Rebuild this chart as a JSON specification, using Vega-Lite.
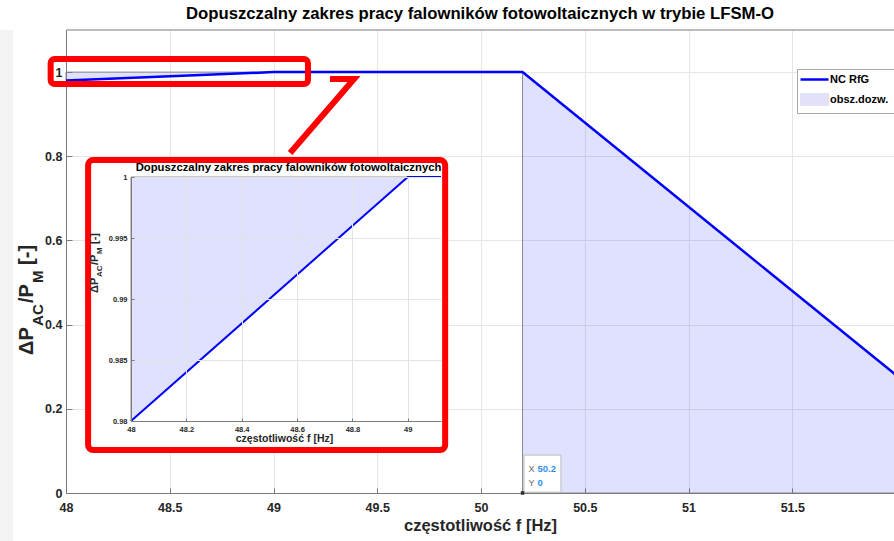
{
  "$schema": "https://vega.github.io/schema/vega-lite/v6.json",
  "width": 828,
  "height": 463,
  "autosize": {"type": "none"},
  "padding": {"left": 66, "top": 30, "right": 0, "bottom": 48},
  "background": "white",
  "config": {"view": {"stroke": null}, "font": "Liberation Sans"},
  "title": {"text": "Dopuszczalny zakres pracy falowników fotowoltaicznych w trybie LFSM-O", "font": "Liberation Sans", "fontSize": 16.7, "fontWeight": "bold", "color": "#000000", "anchor": "middle", "offset": 7},
  "data": {"values": [{}]},
  "datasets": {
    "nc": [{"f": 48, "p": 0.98}, {"f": 49, "p": 1}, {"f": 50.2, "p": 1}, {"f": 52, "p": 0.28}],
    "zone_low": [{"f": 48, "p": 0.98}, {"f": 49, "p": 1}],
    "zone_high": [{"f": 50.2, "p": 1}, {"f": 52, "p": 0.28}],
    "inset": [{"f": 48, "p": 0.98}, {"f": 49, "p": 1}, {"f": 49.12, "p": 1}],
    "arrow": [{"ax": 49.272, "ay": 0.9834, "o": 0}, {"ax": 49.388, "ay": 0.9834, "o": 1}, {"ax": 49.08, "ay": 0.8076, "o": 2}]
  },
  "resolve": {"scale": {"x": "independent", "y": "independent"}},
  "layer": [
    {
      "layer": [
        {
          "mark": {"type": "rect", "fill": "#f3f3f3", "stroke": null},
          "encoding": {"x": {"datum": 47.5}, "x2": {"datum": 47.745}, "y": {"datum": -0.12}, "y2": {"datum": 1.1}}
        },
        {
          "data": {"name": "zone_high"},
          "mark": {"type": "area", "fill": "#0000ff", "fillOpacity": 0.12, "stroke": "#8c8c8c", "strokeWidth": 1, "clip": true},
          "encoding": {
            "x": {"field": "f", "type": "quantitative",
              "scale": {"domain": [48, 51.99], "nice": false, "zero": false},
              "axis": {"values": [48, 48.5, 49, 49.5, 50, 50.5, 51, 51.5], "format": ".1~f", "title": "częstotliwość f [Hz]", "titleFont": "Liberation Sans", "titleFontSize": 16.5, "titleFontWeight": "bold", "titleColor": "#262626", "titlePadding": 4, "labelFont": "Liberation Sans", "labelFontSize": 12.5, "labelFontWeight": "bold", "labelColor": "#262626", "labelPadding": 13, "labelFlush": false, "labelOverlap": false, "tickSize": -5, "tickColor": "#7a7a7a", "domainColor": "#7a7a7a", "grid": true, "gridColor": "#e6e6e6"}},
            "y": {"field": "p", "type": "quantitative",
              "scale": {"domain": [0, 1.1], "nice": false, "zero": false},
              "axis": {"values": [0, 0.2, 0.4, 0.6, 0.8, 1], "format": ".1~f", "title": null, "labelFont": "Liberation Sans", "labelFontSize": 12.5, "labelFontWeight": "bold", "labelColor": "#262626", "labelPadding": 10, "labelFlush": false, "labelOverlap": false, "tickSize": -6, "tickColor": "#7a7a7a", "domainColor": "#7a7a7a", "grid": true, "gridColor": "#e6e6e6"}},
            "y2": {"datum": 0}
          }
        },
        {
          "data": {"name": "zone_low"},
          "mark": {"type": "area", "fill": "#0000ff", "fillOpacity": 0.12, "stroke": "#8c8c8c", "strokeWidth": 1},
          "encoding": {
            "x": {"field": "f", "type": "quantitative"},
            "y": {"field": "p", "type": "quantitative"},
            "y2": {"datum": 1}
          }
        },
        {
          "mark": {"type": "rule", "color": "#7a7a7a", "strokeWidth": 1},
          "encoding": {"y": {"datum": 1.1}}
        },
        {
          "data": {"name": "nc"},
          "mark": {"type": "line", "strokeWidth": 2.5, "clip": true},
          "encoding": {
            "x": {"field": "f", "type": "quantitative"},
            "y": {"field": "p", "type": "quantitative"},
            "color": {"datum": "NC RfG",
              "scale": {"domain": ["NC RfG", "obsz.dozw."], "range": ["#0000ff", "#e2e2fb"]},
              "legend": {"title": null, "orient": "none", "legendX": 731, "legendY": 39, "padding": 5, "rowPadding": 6, "strokeColor": "#a8a8a8", "fillColor": "#ffffff", "symbolSize": 144, "symbolOffset": 7, "labelOffset": 10, "labelFont": "Liberation Sans", "labelFontSize": 11, "labelFontWeight": "bold", "labelColor": "#000000",
                "encode": {"symbols": {"update": {
                  "shape": {"signal": "datum.value === 'NC RfG' ? 'M-2.333,0H2.333' : 'M-2.333,-1H2.333V1H-2.333Z'"},
                  "stroke": {"signal": "datum.value === 'NC RfG' ? '#0000ff' : '#8c8c8c'"},
                  "fill": {"signal": "datum.value === 'NC RfG' ? 'transparent' : '#e2e2fb'"},
                  "strokeWidth": {"signal": "datum.value === 'NC RfG' ? 2.5 : 1"},
                  "opacity": {"value": 1}
                }}}}}
          }
        },
        {
          "mark": {"type": "rect", "fill": "#ffffff", "stroke": "#bdbdbd", "strokeWidth": 1},
          "encoding": {"x": {"datum": 50.207}, "x2": {"datum": 50.385}, "y": {"datum": 0.002}, "y2": {"datum": 0.09}}
        },
        {
          "mark": {"type": "point", "shape": "square", "filled": true, "size": 12, "color": "#2b2b2b", "opacity": 1},
          "encoding": {"x": {"datum": 50.2}, "y": {"datum": 0}}
        },
        {
          "mark": {"type": "text", "text": "X", "align": "left", "baseline": "middle", "dx": 6, "dy": -24, "fontSize": 9, "color": "#666666", "font": "Liberation Sans"},
          "encoding": {"x": {"datum": 50.2}, "y": {"datum": 0}}
        },
        {
          "mark": {"type": "text", "text": "50.2", "align": "left", "baseline": "middle", "dx": 15, "dy": -24, "fontSize": 9.5, "fontWeight": "bold", "color": "#2f8fef", "font": "Liberation Sans"},
          "encoding": {"x": {"datum": 50.2}, "y": {"datum": 0}}
        },
        {
          "mark": {"type": "text", "text": "Y", "align": "left", "baseline": "middle", "dx": 6, "dy": -10, "fontSize": 9, "color": "#666666", "font": "Liberation Sans"},
          "encoding": {"x": {"datum": 50.2}, "y": {"datum": 0}}
        },
        {
          "mark": {"type": "text", "text": "0", "align": "left", "baseline": "middle", "dx": 15, "dy": -10, "fontSize": 9.5, "fontWeight": "bold", "color": "#2f8fef", "font": "Liberation Sans"},
          "encoding": {"x": {"datum": 50.2}, "y": {"datum": 0}}
        },
        {
          "mark": {"type": "rect", "fill": "transparent", "stroke": "#ff0000", "strokeWidth": 6, "cornerRadius": 4},
          "encoding": {"x": {"datum": 47.926}, "x2": {"datum": 49.166}, "y": {"datum": 1.031}, "y2": {"datum": 0.9715}}
        },
        {
          "data": {"name": "arrow"},
          "mark": {"type": "line", "color": "#ff0000", "strokeWidth": 6, "strokeCap": "butt", "strokeJoin": "miter"},
          "encoding": {"x": {"field": "ax", "type": "quantitative"}, "y": {"field": "ay", "type": "quantitative"}, "order": {"field": "o"}}
        },
        {
          "mark": {"type": "text", "text": "ΔP", "angle": 270, "align": "left", "baseline": "alphabetic", "fontSize": 20, "fontWeight": "bold", "color": "#262626", "font": "Liberation Sans", "dx": 0, "dy": 0},
          "encoding": {"x": {"datum": 47.841}, "y": {"datum": 0.328}}
        },
        {
          "mark": {"type": "text", "text": "AC", "angle": 270, "align": "left", "baseline": "alphabetic", "fontSize": 15, "fontWeight": "bold", "color": "#262626", "font": "Liberation Sans", "dx": 29, "dy": 10},
          "encoding": {"x": {"datum": 47.841}, "y": {"datum": 0.328}}
        },
        {
          "mark": {"type": "text", "text": "/P", "angle": 270, "align": "left", "baseline": "alphabetic", "fontSize": 20, "fontWeight": "bold", "color": "#262626", "font": "Liberation Sans", "dx": 52, "dy": 0},
          "encoding": {"x": {"datum": 47.841}, "y": {"datum": 0.328}}
        },
        {
          "mark": {"type": "text", "text": "M", "angle": 270, "align": "left", "baseline": "alphabetic", "fontSize": 15, "fontWeight": "bold", "color": "#262626", "font": "Liberation Sans", "dx": 72, "dy": 10},
          "encoding": {"x": {"datum": 47.841}, "y": {"datum": 0.328}}
        },
        {
          "mark": {"type": "text", "text": "[-]", "angle": 270, "align": "left", "baseline": "alphabetic", "fontSize": 20, "fontWeight": "bold", "color": "#262626", "font": "Liberation Sans", "dx": 90, "dy": 0},
          "encoding": {"x": {"datum": 47.841}, "y": {"datum": 0.328}}
        }
      ]
    },
    {
      "resolve": {"axis": {"x": "independent"}},
      "layer": [
        {
          "mark": {"type": "rect", "fill": "#ffffff", "stroke": "#ff0000", "strokeWidth": 6, "cornerRadius": 5},
          "encoding": {
            "x": {"datum": 47.845, "axis": {"orient": "top", "zindex": 1, "grid": true, "gridColor": "#e3e3e3", "labels": false, "ticks": false, "domain": false, "title": null, "values": [48, 48.2, 48.4, 48.6, 48.8, 49]}},
            "x2": {"datum": 49.135}, "y": {"datum": 0.97762}, "y2": {"datum": 1.00139}}
        },
        {
          "data": {"name": "zone_low"},
          "mark": {"type": "area", "fill": "#0000ff", "fillOpacity": 0.12, "stroke": "#8c8c8c", "strokeWidth": 1},
          "encoding": {
            "x": {"field": "f", "type": "quantitative",
              "scale": {"domain": [48, 49.12], "range": [65, 375], "nice": false, "zero": false},
              "axis": {"orient": "bottom", "offset": -72, "zindex": 1, "values": [48, 48.2, 48.4, 48.6, 48.8, 49], "format": ".1~f", "title": "częstotliwość f [Hz]", "titleFont": "Liberation Sans", "titleFontSize": 10.5, "titleFontWeight": "bold", "titleColor": "#262626", "titlePadding": 1, "titleX": 218, "labelFont": "Liberation Sans", "labelFontSize": 7.5, "labelFontWeight": "bold", "labelColor": "#262626", "labelPadding": 7, "labelFlush": false, "labelOverlap": false, "tickSize": -3, "tickColor": "#7a7a7a", "domainColor": "#7a7a7a", "grid": false}},
            "y": {"field": "p", "type": "quantitative",
              "scale": {"domain": [0.98, 1], "range": [391, 147], "nice": false, "zero": false},
              "axis": {"orient": "left", "offset": -65, "zindex": 1, "values": [0.98, 0.985, 0.99, 0.995, 1], "format": ".3~f", "title": null, "labelFont": "Liberation Sans", "labelFontSize": 7.5, "labelFontWeight": "bold", "labelColor": "#262626", "labelPadding": 7, "labelFlush": false, "labelOverlap": false, "tickSize": -3, "tickColor": "#7a7a7a", "domainColor": "#7a7a7a", "grid": true, "gridColor": "#e3e3e3"}},
            "y2": {"datum": 1}
          }
        },
        {
          "data": {"name": "inset"},
          "mark": {"type": "line", "color": "#0000ff", "strokeWidth": 2},
          "encoding": {"x": {"field": "f", "type": "quantitative", "axis": null}, "y": {"field": "p", "type": "quantitative"}}
        },
        {
          "mark": {"type": "text", "text": "Dopuszczalny zakres pracy falowników fotowoltaicznych", "align": "center", "baseline": "alphabetic", "fontSize": 11.3, "fontWeight": "bold", "color": "#000000", "font": "Liberation Sans"},
          "encoding": {"x": {"datum": 48.569, "axis": null}, "y": {"datum": 1.00049}}
        },
        {
          "mark": {"type": "text", "text": "ΔP", "angle": 270, "align": "left", "baseline": "alphabetic", "fontSize": 11, "fontWeight": "bold", "color": "#262626", "font": "Liberation Sans", "dx": 0, "dy": 0},
          "encoding": {"x": {"datum": 47.879, "axis": null}, "y": {"datum": 0.99049}}
        },
        {
          "mark": {"type": "text", "text": "AC", "angle": 270, "align": "left", "baseline": "alphabetic", "fontSize": 8, "fontWeight": "bold", "color": "#262626", "font": "Liberation Sans", "dx": 16, "dy": 4},
          "encoding": {"x": {"datum": 47.879, "axis": null}, "y": {"datum": 0.99049}}
        },
        {
          "mark": {"type": "text", "text": "/P", "angle": 270, "align": "left", "baseline": "alphabetic", "fontSize": 11, "fontWeight": "bold", "color": "#262626", "font": "Liberation Sans", "dx": 28, "dy": 0},
          "encoding": {"x": {"datum": 47.879, "axis": null}, "y": {"datum": 0.99049}}
        },
        {
          "mark": {"type": "text", "text": "M", "angle": 270, "align": "left", "baseline": "alphabetic", "fontSize": 8, "fontWeight": "bold", "color": "#262626", "font": "Liberation Sans", "dx": 39, "dy": 4},
          "encoding": {"x": {"datum": 47.879, "axis": null}, "y": {"datum": 0.99049}}
        },
        {
          "mark": {"type": "text", "text": "[-]", "angle": 270, "align": "left", "baseline": "alphabetic", "fontSize": 11, "fontWeight": "bold", "color": "#262626", "font": "Liberation Sans", "dx": 49, "dy": 0},
          "encoding": {"x": {"datum": 47.879, "axis": null}, "y": {"datum": 0.99049}}
        }
      ]
    }
  ]
}
